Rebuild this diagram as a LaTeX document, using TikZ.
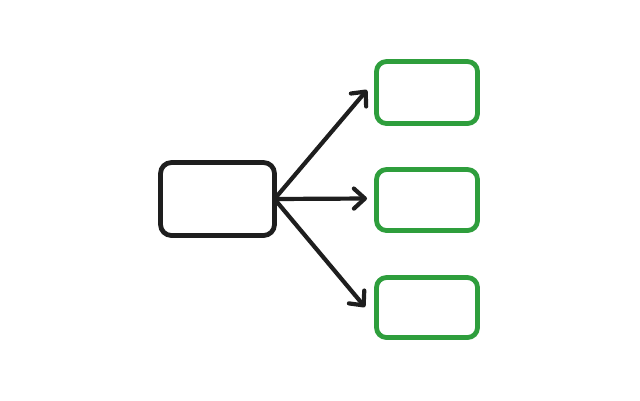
\documentclass[tikz,border=0pt]{standalone}
\usetikzlibrary{arrows.meta}
\definecolor{inkblack}{HTML}{1E1E1E}
\definecolor{inkgreen}{HTML}{2E9E3C}
\begin{document}
\begin{tikzpicture}[x=1pt,y=-1pt,
  srcbox/.style={draw=inkblack,line width=4.8pt,rounded corners=11pt,minimum width=114pt,minimum height=73pt,inner sep=0pt,outer sep=0pt},
  dstbox/.style={draw=inkgreen,line width=4.8pt,rounded corners=10pt,minimum width=101pt,minimum height=61pt,inner sep=0pt,outer sep=0pt},
  link/.style={draw=inkblack,line width=4.2pt,line cap=round,-{Straight Barb[length=11pt,width=20pt,line cap=round,line join=round]}}]
\useasboundingbox[fill=white] (0,0) rectangle (640,400);
\node[srcbox] (src) at (217.5,199) {};
\node[dstbox,minimum height=62pt] (g1) at (427,92.5) {};
\node[dstbox] (g2) at (427,200) {};
\node[dstbox,minimum height=60pt] (g3) at (427,307.5) {};
\coordinate (t1) at (367,90);
\coordinate (t2) at (367,198.5);
\coordinate (t3) at (365,307);
\draw[link] (src.east) -- (t1);
\draw[link] (src.east) -- (t2);
\draw[link] (src.east) -- (t3);
\end{tikzpicture}
\end{document}
